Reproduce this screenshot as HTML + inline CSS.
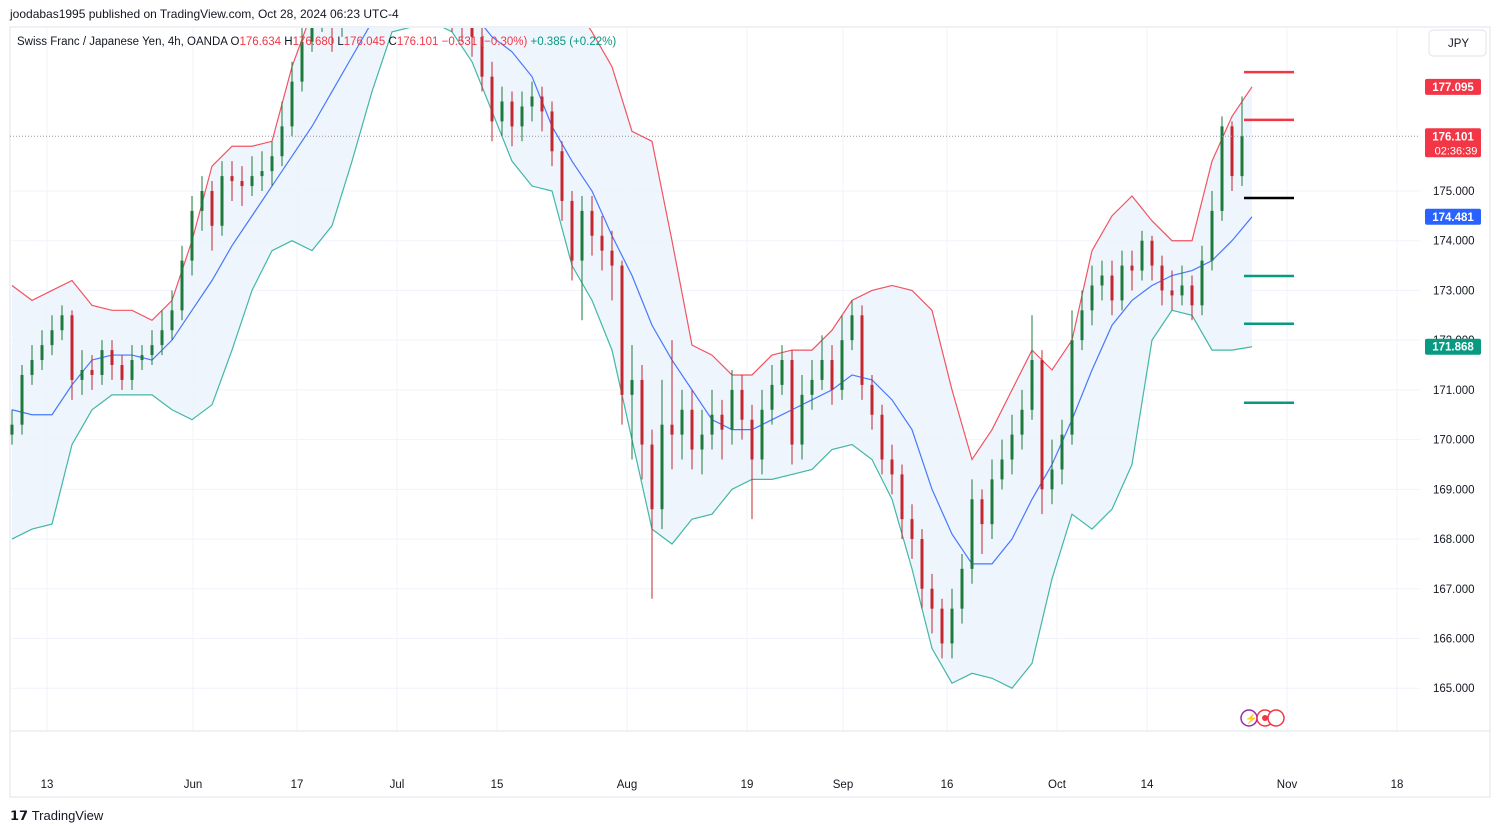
<!DOCTYPE html>
<html><head><meta charset="utf-8"><style>
html,body{margin:0;padding:0;background:#fff;width:1500px;height:832px;overflow:hidden;font-family:"Liberation Sans",sans-serif;}
svg{position:absolute;left:0;top:0}
</style></head><body>
<svg id="chart" width="1500" height="832">
<defs><clipPath id="plotclip"><rect x="10" y="28" width="1410" height="703"/></clipPath></defs>
<rect x="10" y="27" width="1480" height="770" fill="#fff" stroke="#e0e3eb"/>
<line x1="10" y1="731" x2="1490" y2="731" stroke="#e0e3eb"/>
<g id="grid"></g>
<g id="bands" clip-path="url(#plotclip)"></g>
<g id="candles" clip-path="url(#plotclip)"></g>
<g id="levels"></g>
<g id="yaxis"></g>
<g id="xaxis"></g>
<text x="10" y="18" font-size="12" fill="#131722">joodabas1995 published on TradingView.com, Oct 28, 2024 06:23 UTC-4</text>
<text x="17" y="45" font-size="11.5" fill="#131722">Swiss Franc / Japanese Yen, 4h, OANDA <tspan fill="#131722">O</tspan><tspan fill="#f23645">176.634</tspan> <tspan fill="#131722">H</tspan><tspan fill="#f23645">176.680</tspan> <tspan fill="#131722">L</tspan><tspan fill="#f23645">176.045</tspan> <tspan fill="#131722">C</tspan><tspan fill="#f23645">176.101</tspan> <tspan fill="#f23645">−0.531 (−0.30%)</tspan> <tspan fill="#089981">+0.385 (+0.22%)</tspan></text>
<rect x="1429" y="30" width="57" height="26" rx="4" fill="#fff" stroke="#e0e3eb"/>
<text x="1448" y="47" font-size="11.5" fill="#131722">JPY</text>
<g>
<circle cx="1249" cy="718" r="8" fill="#fff" stroke="#9c27b0" stroke-width="1.5"/>
<text x="1245" y="722" font-size="10" fill="#9c27b0">⚡</text>
<circle cx="1265" cy="718" r="8" fill="#fff" stroke="#f23645" stroke-width="1.5"/>
<circle cx="1265" cy="718" r="3" fill="#f23645"/>
<circle cx="1276" cy="718" r="8" fill="#fff" stroke="#f23645" stroke-width="1.5"/>
</g>
<text x="10" y="820" font-size="13" font-weight="bold" fill="#131722">𝟭𝟳 <tspan font-weight="normal">TradingView</tspan></text>
</svg>
<script>
const closes=[170.3,171.3,171.6,171.9,172.2,172.5,171.2,171.4,171.3,171.8,171.5,171.2,171.6,171.7,171.9,172.2,172.6,173.6,174.6,175.0,174.3,175.3,175.2,175.1,175.3,175.4,175.7,176.3,177.2,178.0,178.6,178.9,178.5,178.7,179.0,179.2,179.4,179.3,179.0,179.2,179.3,179.1,179.0,178.8,178.6,178.4,178.1,177.3,176.4,176.8,176.3,176.7,176.9,176.6,175.8,174.8,173.6,174.6,174.1,173.8,173.5,170.9,171.2,169.9,168.6,170.3,170.1,170.6,169.8,170.1,170.5,170.2,171.0,170.4,169.6,170.6,171.1,171.6,169.9,170.9,171.2,171.6,171.0,172.0,172.5,171.1,170.5,169.6,169.3,168.4,168.0,167.0,166.6,165.9,166.6,167.4,168.8,168.3,169.2,169.6,170.1,170.6,171.6,169.0,169.4,170.1,172.0,172.6,173.1,173.3,172.8,173.5,173.4,174.0,173.5,173.0,172.9,173.1,172.7,173.6,174.6,176.3,175.3,176.1];
const highs=[170.6,171.5,171.9,172.2,172.5,172.7,172.6,171.8,171.7,172.0,172.0,171.7,171.9,171.9,172.2,172.6,173.0,173.9,174.9,175.3,175.2,175.6,175.6,175.5,175.7,175.8,176.0,176.8,177.6,178.4,179.0,179.2,179.2,179.0,179.3,179.5,179.7,179.7,179.6,179.5,179.6,179.6,179.4,179.3,179.1,178.9,178.7,178.3,177.6,177.1,177.0,177.0,177.2,177.1,176.8,176.0,175.0,174.9,174.9,174.5,174.2,173.6,171.9,171.5,170.2,171.2,172.0,171.0,171.0,170.6,171.0,170.8,171.4,171.3,170.7,171.0,171.5,171.9,171.8,171.3,171.6,172.1,171.9,172.5,172.8,172.7,171.3,170.7,169.9,169.5,168.7,168.2,167.3,166.8,167.0,167.7,169.2,169.0,169.6,170.0,170.5,171.0,172.5,171.8,170.0,170.4,172.6,173.0,173.5,173.6,173.6,173.8,173.8,174.2,174.1,173.7,173.4,173.5,173.3,173.9,175.0,176.5,176.4,176.9];
const lows=[169.9,170.1,171.1,171.4,171.7,172.0,170.8,170.9,171.0,171.1,171.2,171.0,171.0,171.4,171.5,171.7,172.0,172.4,173.3,174.2,173.8,174.1,174.8,174.7,174.9,175.0,175.1,175.5,176.1,177.0,177.8,178.2,177.8,178.1,178.3,178.6,178.8,178.9,178.6,178.6,178.8,178.7,178.6,178.4,178.2,178.0,177.7,177.0,176.0,176.1,175.9,176.0,176.4,176.2,175.5,174.4,173.2,172.4,173.7,173.4,172.8,170.3,169.6,169.2,166.8,168.2,169.4,169.6,169.4,169.3,169.8,169.6,169.9,170.0,168.4,169.3,170.3,170.9,169.5,169.6,170.6,171.0,170.7,170.8,171.8,170.8,170.2,169.3,168.9,168.0,167.6,166.6,166.1,165.6,165.6,166.3,167.1,167.7,168.0,169.0,169.3,169.8,170.4,168.5,168.7,169.1,169.9,171.8,172.3,172.8,172.5,172.6,173.0,173.2,173.2,172.7,172.6,172.7,172.4,172.5,173.4,174.4,175.0,175.1];
const firstOpen=170.1;
const upperBand=[173.1,172.8,173.0,173.2,172.7,172.6,172.6,172.4,172.8,174.0,175.5,175.9,175.9,176.0,177.5,178.6,179.0,179.5,179.6,179.6,179.8,179.8,179.7,179.5,179.5,179.3,179.2,179.0,178.8,178.2,177.5,176.2,176.0,174.0,171.9,171.7,171.3,171.3,171.7,171.8,171.8,172.2,172.8,173.0,173.1,173.0,172.6,171.0,169.6,170.2,171.0,171.8,171.4,172.0,173.8,174.5,174.9,174.4,174.0,174.0,175.6,176.5,177.095];
const midBand=[170.6,170.5,170.5,171.1,171.6,171.7,171.7,171.6,172.0,172.6,173.2,173.9,174.5,175.1,175.7,176.3,177.0,177.7,178.4,178.8,179.0,179.1,178.9,178.6,178.1,177.8,177.3,176.3,175.6,175.0,174.1,173.3,172.3,171.6,171.0,170.4,170.2,170.2,170.4,170.6,170.8,171.0,171.3,171.2,170.8,170.2,169.0,168.1,167.5,167.5,168.0,168.8,169.5,170.4,171.4,172.3,172.8,173.1,173.3,173.4,173.6,174.0,174.481];
const lowerBand=[168.0,168.2,168.3,169.9,170.6,170.9,170.9,170.9,170.6,170.4,170.7,171.8,173.0,173.8,174.0,173.8,174.3,175.6,177.0,178.2,178.3,178.4,178.2,177.6,176.6,175.6,175.1,175.0,173.5,172.8,171.8,170.0,168.2,167.9,168.4,168.5,169.0,169.2,169.2,169.3,169.4,169.8,169.9,169.6,168.8,167.4,165.8,165.1,165.3,165.2,165.0,165.5,167.2,168.5,168.2,168.6,169.5,172.0,172.6,172.5,171.8,171.8,171.868];
const priceTicks=[175,174,173,172,171,170,169,168,167,166,165];
const priceTickLabels=["175.000","174.000","173.000","172.000","171.000","170.000","169.000","168.000","167.000","166.000","165.000"];
const dateLabels=["13","Jun","17","Jul","15","Aug","19","Sep","16","Oct","14","Nov","18"];
const dateSlots=[3.5,18.1,28.5,38.5,48.5,61.5,73.5,83.1,93.5,104.5,113.5,127.5,138.5];
const levelPrices=[177.39,176.43,174.86,173.29,172.33,170.74];
const levelColors=["#f23645","#f23645","#000","#089981","#089981","#089981"];
const levelNames=["resistance-2","resistance-1","pivot","support-1","support-2","support-3"];
const lastPrice=176.101;

const NS="http://www.w3.org/2000/svg";
const y=p=>191+(175-p)*49.72;
const xc=i=>12+10*i;
const xb=i=>12+20*i;
function mk(tag,attrs,parent){const e=document.createElementNS(NS,tag);for(const k in attrs)e.setAttribute(k,attrs[k]);parent.appendChild(e);return e;}
const grid=document.getElementById('grid'),bands=document.getElementById('bands'),cg=document.getElementById('candles'),lv=document.getElementById('levels'),ya=document.getElementById('yaxis'),xa=document.getElementById('xaxis');

priceTicks.forEach((p,k)=>{
  const l=mk('line',{x1:10,x2:1420,y1:y(p),y2:y(p),stroke:'#f0f3fa'},grid);
  
  
  const t=mk('text',{x:1433,y:y(p)+4,'font-size':11.5,fill:'#131722'},ya);
  t.textContent=priceTickLabels[k];
  
  
});
dateLabels.forEach((d,k)=>{
  const x=xc(dateSlots[k]);
  const l=mk('line',{x1:x,x2:x,y1:28,y2:731,stroke:'#f0f3fa'},grid);
  
  
  const t=mk('text',{x:x,y:788,'font-size':11.5,fill:'#131722','text-anchor':'middle'},xa);
  t.textContent=d;
  
  
});

let pts=upperBand.map((v,i)=>xb(i)+','+y(v)).join(' ')+' '+lowerBand.map((v,i)=>xb(i)+','+y(v)).reverse().join(' ');
const fill=mk('polygon',{points:pts,fill:'#eaf3fc','fill-opacity':0.8},bands);


[[upperBand,'#f23645','bollinger-upper'],[midBand,'#2962ff','bollinger-basis'],[lowerBand,'#22ab94','bollinger-lower']].forEach(([arr,col,nm])=>{
  const pl=mk('polyline',{points:arr.map((v,i)=>xb(i)+','+y(v)).join(' '),fill:'none',stroke:col,'stroke-width':1.2,'stroke-opacity':0.85},bands);
  
  
});

closes.forEach((c,i)=>{
  const o=i===0?firstOpen:closes[i-1];
  const up=c>=o, col=up?'#1e7a3c':'#c2282e', x=xc(i);
  const g=mk('g',{},cg);
  
  
  mk('line',{x1:x,x2:x,y1:y(highs[i]),y2:y(lows[i]),stroke:col,'stroke-width':1},g);
  const top=y(Math.max(o,c)),bot=y(Math.min(o,c));
  mk('rect',{x:x-1.5,y:top,width:3,height:Math.max(1,bot-top),fill:col},g);
});

const pl=mk('line',{x1:10,x2:1420,y1:y(lastPrice),y2:y(lastPrice),stroke:'#9598a1','stroke-dasharray':'1,2','stroke-width':1},lv);


levelPrices.forEach((p,k)=>{
  const l=mk('line',{x1:1244,x2:1294,y1:y(p),y2:y(p),stroke:levelColors[k],'stroke-width':2.5},lv);
  
  
});

function tag(p,col,txt,name,h){
  const g=mk('g',{},ya);
  
  
  mk('rect',{x:1425,y:y(p)-8,width:56,height:h||16,rx:2,fill:col},g);
  const t=mk('text',{x:1453,y:y(p)+4,'font-size':11.5,fill:'#fff','text-anchor':'middle','font-weight':'bold'},g);
  t.textContent=txt;
  return g;
}
tag(upperBand[upperBand.length-1],'#f23645',upperBand[upperBand.length-1].toFixed(3),'upper-band-tag');
tag(midBand[midBand.length-1],'#2962ff',midBand[midBand.length-1].toFixed(3),'basis-tag');
tag(lowerBand[lowerBand.length-1],'#089981',lowerBand[lowerBand.length-1].toFixed(3),'lower-band-tag');
const g=tag(lastPrice,'#f23645',lastPrice.toFixed(3),'last-price-tag',29);
const t2=mk('text',{x:1456,y:y(lastPrice)+18,'font-size':11,fill:'#fff','text-anchor':'middle'},g);
t2.textContent='02:36:39';
</script>
</body></html>
